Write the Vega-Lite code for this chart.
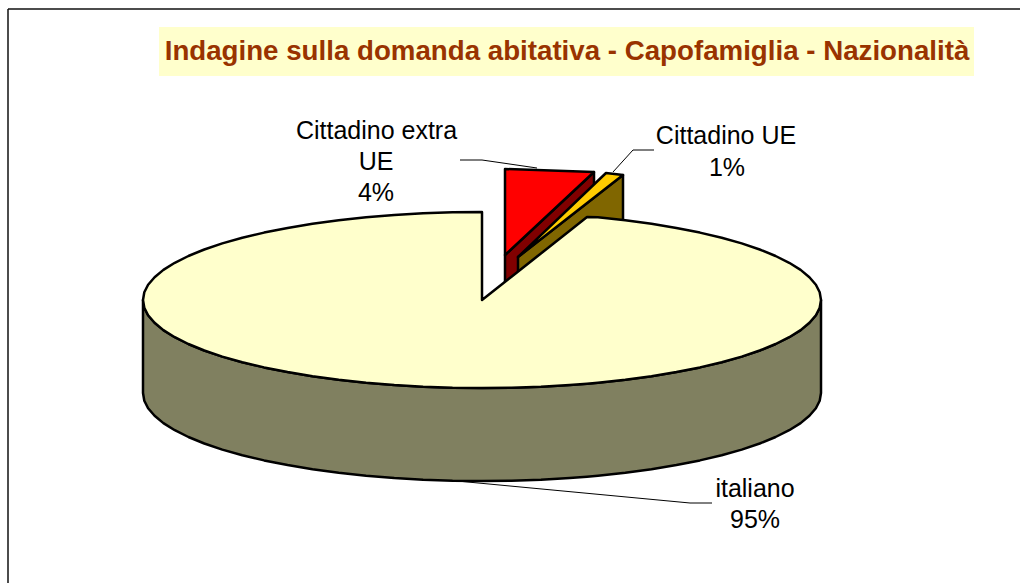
{"$schema":"https://vega.github.io/schema/vega-lite/v6.json","width":1020,"height":583,"padding":0,"autosize":{"type":"none"},"background":"white","config":{"view":{"stroke":null},"axis":{"disable":true},"text":{"font":"Liberation Sans"}},
"datasets":{
"pie":[{"x":143,"top":300,"bottom":300,"floor":393},{"x":144.3,"top":292.3,"bottom":307.7,"floor":400.7},{"x":148.1,"top":284.7,"bottom":315.3,"floor":408.3},{"x":154.6,"top":277.2,"bottom":322.8,"floor":415.8},{"x":163.4,"top":269.9,"bottom":330.1,"floor":423.1},{"x":174.8,"top":262.8,"bottom":337.2,"floor":430.2},{"x":188.4,"top":256,"bottom":344,"floor":437},{"x":204.3,"top":249.5,"bottom":350.5,"floor":443.5},{"x":222.3,"top":243.4,"bottom":356.6,"floor":449.6},{"x":242.3,"top":237.8,"bottom":362.2,"floor":455.2},{"x":264.1,"top":232.6,"bottom":367.4,"floor":460.4},{"x":287.6,"top":227.9,"bottom":372.1,"floor":465.1},{"x":312.5,"top":223.8,"bottom":376.2,"floor":469.2},{"x":338.7,"top":220.2,"bottom":379.8,"floor":472.8},{"x":366.1,"top":217.3,"bottom":382.7,"floor":475.7},{"x":394.3,"top":215,"bottom":385,"floor":478},{"x":423.1,"top":213.3,"bottom":386.7,"floor":479.7},{"x":452.5,"top":212.3,"bottom":387.7,"floor":480.7},{"x":482,"top":212,"bottom":388,"floor":481},{"x":482,"top":300,"bottom":388,"floor":481},{"x":511.5,"top":276.7,"bottom":387.7,"floor":480.7},{"x":540.9,"top":253.4,"bottom":386.7,"floor":479.7},{"x":569.7,"top":230.7,"bottom":385,"floor":478},{"x":587,"top":217,"bottom":383.7,"floor":476.7},{"x":597.9,"top":217.3,"bottom":382.7,"floor":475.7},{"x":625.3,"top":220.2,"bottom":379.8,"floor":472.8},{"x":651.5,"top":223.8,"bottom":376.2,"floor":469.2},{"x":676.4,"top":227.9,"bottom":372.1,"floor":465.1},{"x":699.9,"top":232.6,"bottom":367.4,"floor":460.4},{"x":721.7,"top":237.8,"bottom":362.2,"floor":455.2},{"x":741.7,"top":243.4,"bottom":356.6,"floor":449.6},{"x":759.7,"top":249.5,"bottom":350.5,"floor":443.5},{"x":775.6,"top":256,"bottom":344,"floor":437},{"x":789.2,"top":262.8,"bottom":337.2,"floor":430.2},{"x":800.6,"top":269.9,"bottom":330.1,"floor":423.1},{"x":809.4,"top":277.2,"bottom":322.8,"floor":415.8},{"x":815.9,"top":284.7,"bottom":315.3,"floor":408.3},{"x":819.7,"top":292.3,"bottom":307.7,"floor":400.7},{"x":821,"top":300,"bottom":300,"floor":393}],
"wedges":[{"part":"extra UE lato","x":505,"top":255,"bottom":290},{"part":"extra UE lato","x":594,"top":172,"bottom":207},{"part":"extra UE","x":505,"top":169,"bottom":255},{"part":"extra UE","x":594,"top":172,"bottom":172},{"part":"UE lato","x":518,"top":257,"bottom":290},{"part":"UE lato","x":623,"top":175,"bottom":260},{"part":"UE","x":518,"top":257,"bottom":257},{"part":"UE","x":606,"top":173,"bottom":188.3},{"part":"UE","x":623,"top":175,"bottom":175}],
"leaders":[{"label":"extra","i":1,"x":460,"y":160},{"label":"extra","i":2,"x":482,"y":160},{"label":"extra","i":3,"x":537,"y":168},{"label":"ue","i":1,"x":654,"y":150},{"label":"ue","i":2,"x":633,"y":150},{"label":"ue","i":3,"x":613,"y":172},{"label":"it","i":1,"x":712,"y":503},{"label":"it","i":2,"x":690,"y":503},{"label":"it","i":3,"x":457,"y":481}],
"labels":[{"t":"Cittadino extra","x":376.5,"y":130.5},{"t":"UE","x":376,"y":161.5},{"t":"4%","x":376,"y":193},{"t":"Cittadino UE","x":726,"y":135.5},{"t":"1%","x":727,"y":167.5},{"t":"italiano","x":755,"y":488.5},{"t":"95%","x":755,"y":519.5}],
"frame":[{"x":8,"x2":8,"y":9,"y2":583},{"x":8,"x2":1020,"y":9,"y2":9}],
"band":[{"x":159,"x2":974,"y":27,"y2":76,"t":"Indagine sulla domanda abitativa - Capofamiglia - Nazionalità","cx":567,"cy":51.7}]
},
"layer":[
{"data":{"name":"frame"},"mark":{"type":"rule","stroke":"#111111","strokeWidth":1.5},"encoding":{"x":{"field":"x","type":"quantitative","scale":{"domain":[0,1020],"nice":false}},"x2":{"field":"x2"},"y":{"field":"y","type":"quantitative","scale":{"domain":[583,0],"nice":false}},"y2":{"field":"y2"}}},
{"data":{"name":"band"},"mark":{"type":"rect","fill":"#FFFFCC"},"encoding":{"x":{"field":"x","type":"quantitative"},"x2":{"field":"x2"},"y":{"field":"y","type":"quantitative"},"y2":{"field":"y2"}}},
{"data":{"name":"band"},"mark":{"type":"text","font":"Liberation Sans","fontWeight":"bold","fontSize":27.7,"fill":"#993300","align":"center","baseline":"middle"},"encoding":{"x":{"field":"cx","type":"quantitative"},"y":{"field":"cy","type":"quantitative"},"text":{"field":"t"}}},
{"data":{"name":"pie"},"mark":{"type":"area","fill":"#808060","stroke":"black","strokeWidth":2.5,"strokeJoin":"round"},"encoding":{"x":{"field":"x","type":"quantitative"},"y":{"field":"bottom","type":"quantitative"},"y2":{"field":"floor"}}},
{"data":{"name":"wedges"},"mark":{"type":"area","stroke":"black","strokeWidth":2.5,"strokeJoin":"round"},"encoding":{"x":{"field":"x","type":"quantitative"},"y":{"field":"top","type":"quantitative"},"y2":{"field":"bottom"},"color":{"field":"part","type":"nominal","legend":null,"scale":{"domain":["extra UE lato","extra UE","UE lato","UE"],"range":["#800000","#FF0000","#806600","#FFCC00"]}}}},
{"data":{"name":"pie"},"mark":{"type":"area","fill":"#FFFFCC","stroke":"black","strokeWidth":2.5,"strokeJoin":"round"},"encoding":{"x":{"field":"x","type":"quantitative"},"y":{"field":"top","type":"quantitative"},"y2":{"field":"bottom"}}},
{"data":{"name":"leaders"},"mark":{"type":"line","stroke":"black","strokeWidth":1},"encoding":{"x":{"field":"x","type":"quantitative"},"y":{"field":"y","type":"quantitative"},"detail":{"field":"label"},"order":{"field":"i"}}},
{"data":{"name":"labels"},"mark":{"type":"text","font":"Liberation Sans","fontSize":25,"fill":"black","align":"center","baseline":"middle"},"encoding":{"x":{"field":"x","type":"quantitative"},"y":{"field":"y","type":"quantitative"},"text":{"field":"t"}}}
]}
